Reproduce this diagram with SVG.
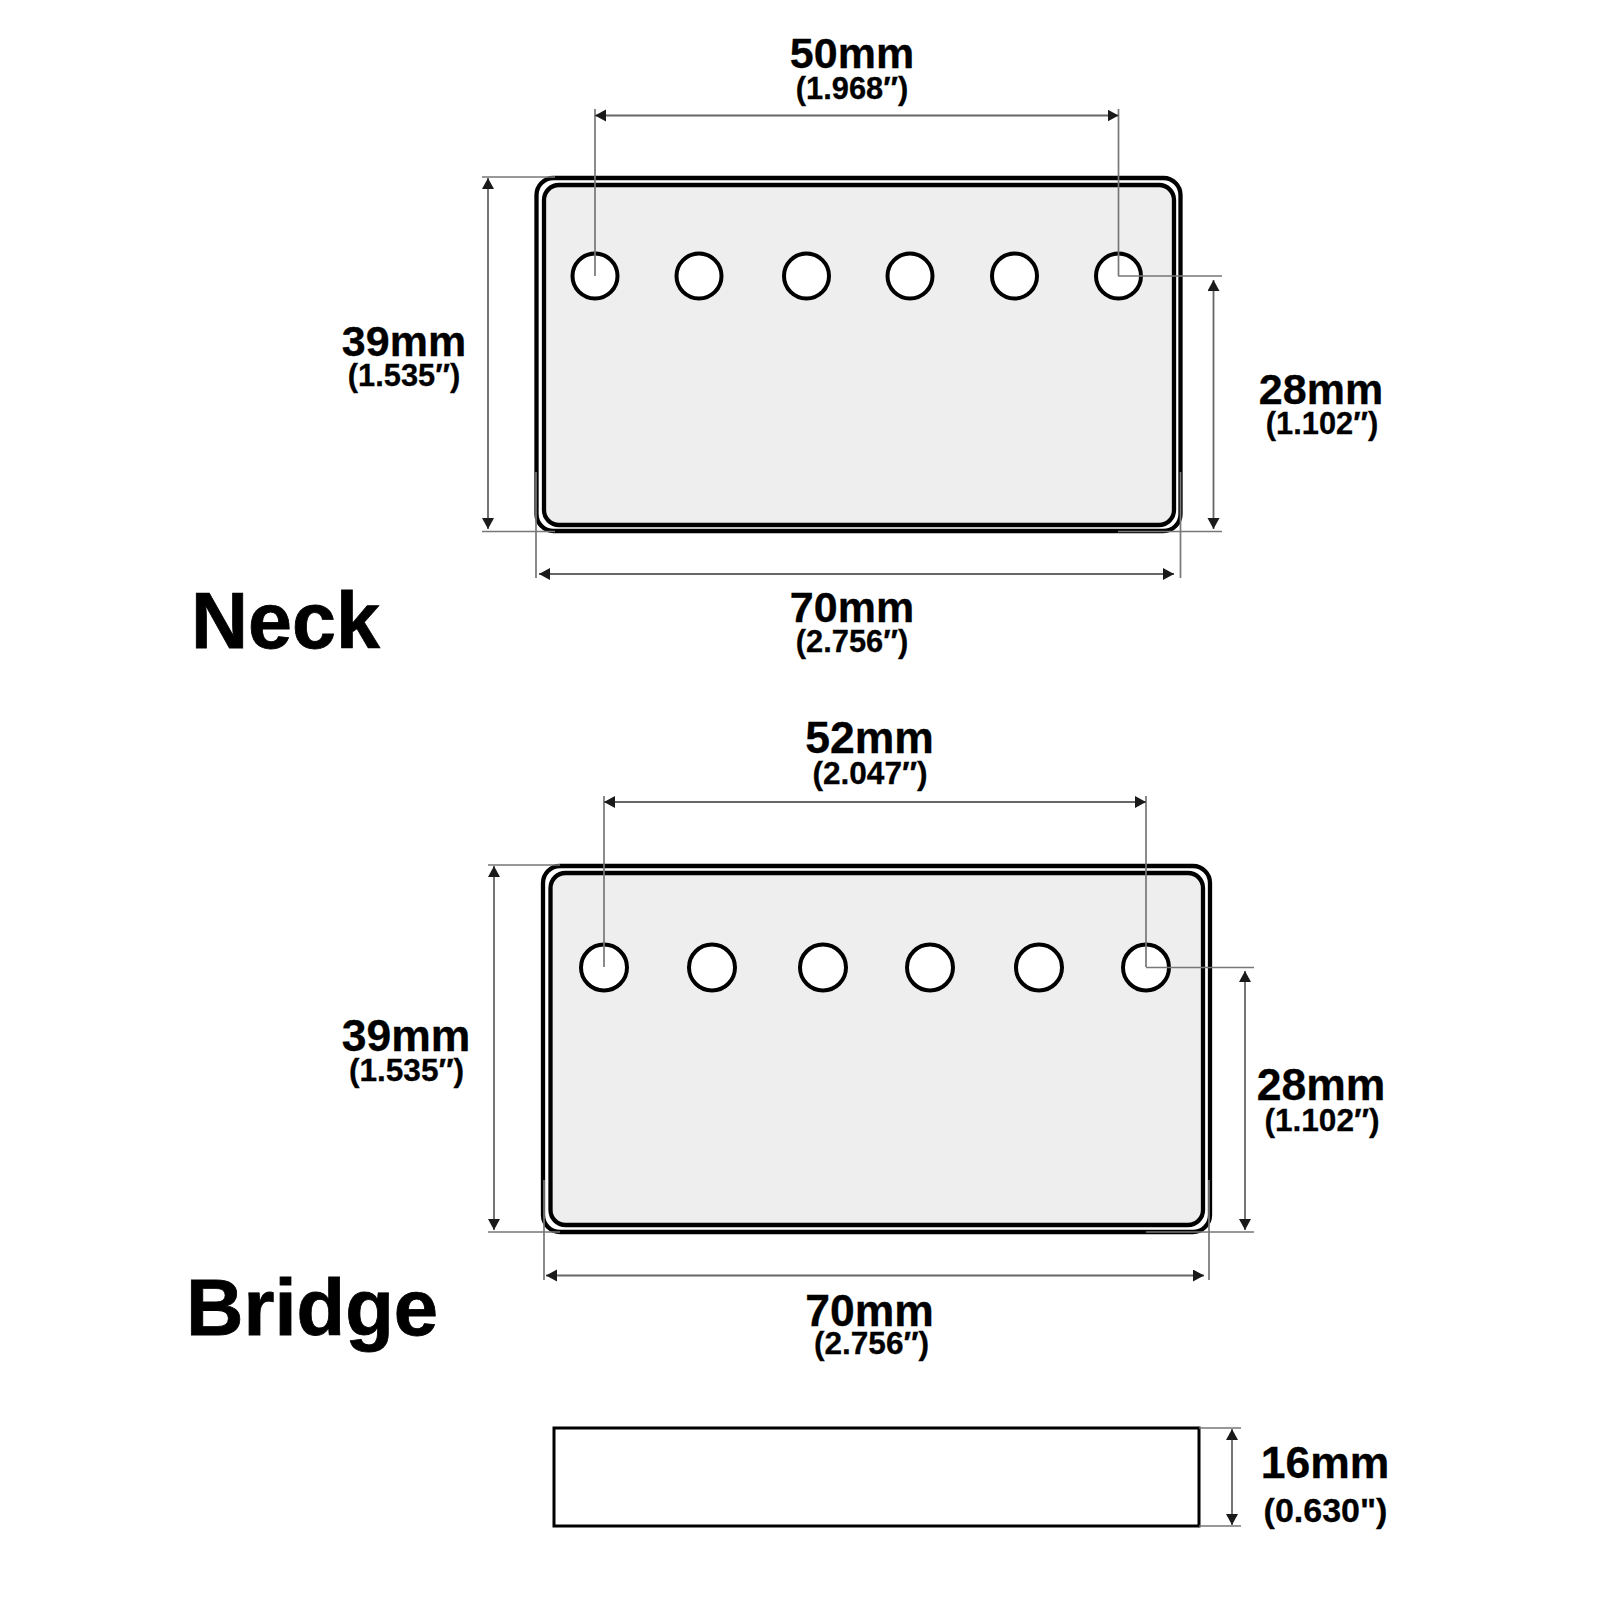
<svg xmlns="http://www.w3.org/2000/svg" width="1600" height="1600" viewBox="0 0 1600 1600">
<style>
text{font-family:"Liberation Sans",Arial,sans-serif;font-weight:700;fill:#000;stroke:#000;stroke-width:.3;text-anchor:middle}
.mm{font-size:43px}.mb{font-size:44.5px}.in{font-size:30.8px}.ib{font-size:31.6px}.is{font-size:34px}.title{font-size:79px;stroke-width:.8;text-anchor:start}
.br{font-size:79.6px}
.outer{fill:#fff;stroke:#000;stroke-width:4.3}
.inner{fill:#eee;stroke:#000;stroke-width:4.3}
.hole{fill:#fff;stroke:#000;stroke-width:4}
.ext{stroke:#777;stroke-width:1.7;fill:none}
.dim{stroke:#666;stroke-width:1.8;fill:none;marker-start:url(#a);marker-end:url(#a)}
</style>
<defs>
<marker id="a" markerUnits="userSpaceOnUse" markerWidth="13" markerHeight="13" refX="11" refY="6" orient="auto-start-reverse"><path d="M11 6L0 0V12Z" fill="#1a1a1a"/></marker>
</defs>
<rect width="1600" height="1600" fill="#fff"/>
<g id="neck-pickup">
<rect class="outer" x="536.5" y="178" width="644" height="353" rx="17"/>
<rect class="inner" x="544" y="185" width="630" height="340" rx="15"/>
<circle class="hole" cx="595" cy="276" r="22.5"/><circle class="hole" cx="699" cy="276" r="22.5"/><circle class="hole" cx="806.5" cy="276" r="22.5"/><circle class="hole" cx="910" cy="276" r="22.5"/><circle class="hole" cx="1014.5" cy="276" r="22.5"/><circle class="hole" cx="1118.5" cy="276" r="22.5"/>
</g>
<g id="bridge-pickup">
<rect class="outer" x="543" y="866" width="667" height="366" rx="17"/>
<rect class="inner" x="550.5" y="873" width="652.5" height="352" rx="15"/>
<circle class="hole" cx="604" cy="967.5" r="23"/><circle class="hole" cx="712" cy="967.5" r="23"/><circle class="hole" cx="823" cy="967.5" r="23"/><circle class="hole" cx="930" cy="967.5" r="23"/><circle class="hole" cx="1039" cy="967.5" r="23"/><circle class="hole" cx="1146" cy="967.5" r="23"/>
</g>
<g id="side-view">
<rect x="554" y="1428" width="645" height="98" fill="#fff" stroke="#000" stroke-width="3"/>
</g>
<g id="connectors">
<path class="ext" d="M595 109V276M1118.5 109V276M482 177H555M482 531.5H555M536 472V578M1180.5 472V578M1118 276H1222M1118 531.5H1222"/>
<path class="dim" d="M595 115.5H1118.5"/>
<path class="dim" d="M488 178V529"/>
<path class="dim" d="M539 574H1174"/>
<path class="dim" d="M1213.5 280V529"/>
<path class="ext" d="M604 796V967M1146 796V967M488 865H560M488 1232H560M544 1180V1280M1209 1180V1280M1146 967.5H1254M1146 1232H1254"/>
<path class="dim" d="M604 802H1146"/>
<path class="dim" d="M494 866V1230"/>
<path class="dim" d="M546 1275.5H1204"/>
<path class="dim" d="M1245 971V1230"/>
<path class="ext" d="M1199 1428H1241M1199 1526H1241"/>
<path class="dim" d="M1232 1429V1525"/>
</g>
<g id="labels">
<text class="mm" x="852" y="68">50mm</text><text class="in" x="852" y="99">(1.968″)</text>
<text class="mm" x="404" y="356">39mm</text><text class="in" x="404" y="386">(1.535″)</text>
<text class="mm" x="1321" y="404">28mm</text><text class="in" x="1322" y="434">(1.102″)</text>
<text class="mm" x="852" y="622">70mm</text><text class="in" x="852" y="652">(2.756″)</text>
<text class="title" x="191" y="648">Neck</text>
<text class="mb" x="869.5" y="753">52mm</text><text class="ib" x="870" y="784">(2.047″)</text>
<text class="mb" x="406" y="1051">39mm</text><text class="ib" x="406.5" y="1081">(1.535″)</text>
<text class="mb" x="1321" y="1100">28mm</text><text class="ib" x="1322" y="1131">(1.102″)</text>
<text class="mb" x="869.5" y="1326">70mm</text><text class="ib" x="871.5" y="1354">(2.756″)</text>
<text class="title br" x="186" y="1335">Bridge</text>
<text class="mb" x="1325" y="1478">16mm</text><text class="is" x="1325.5" y="1522">(0.630")</text>
</g>
</svg>
